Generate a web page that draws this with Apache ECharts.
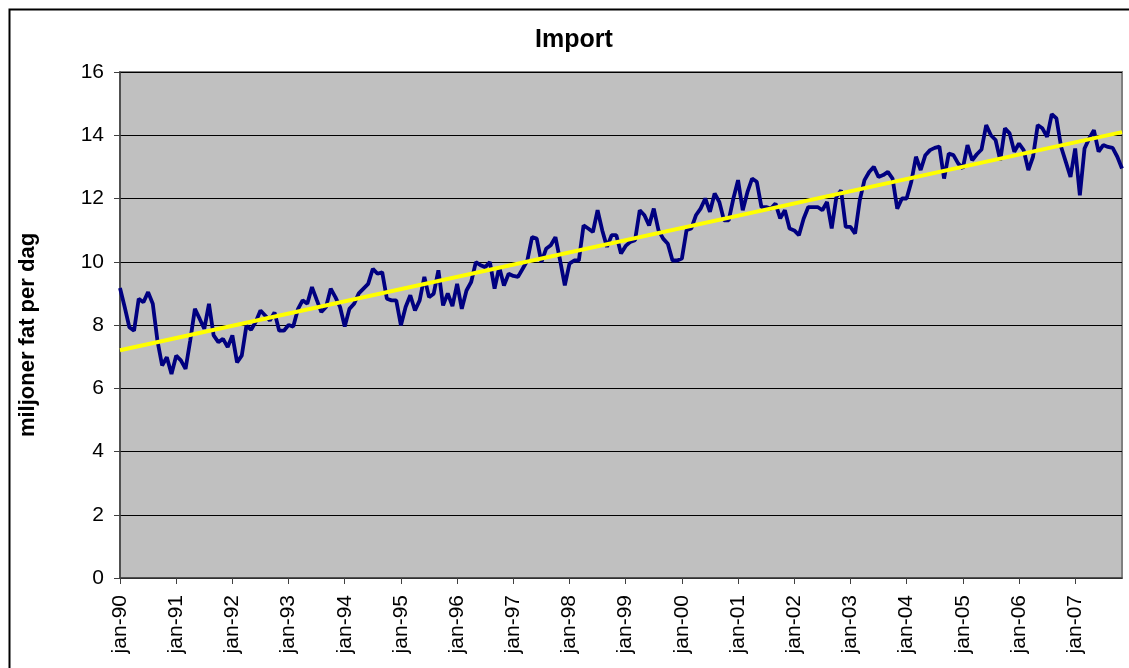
<!DOCTYPE html>
<html>
<head>
<meta charset="utf-8">
<title>Import</title>
<script src="https://cdn.jsdelivr.net/npm/echarts@6/dist/echarts.min.js"></script>
<style>
  html, body { margin: 0; padding: 0; background: #fff; }
  #chart { width: 1129px; height: 668px; }
</style>
</head>
<body>
<div id="chart"></div>
<script>
// månedsnavn og år for kategoriaksen (jan-90 .. nov-07)
const monthNames = ['jan', 'feb', 'mar', 'apr', 'mai', 'jun', 'jul', 'aug', 'sep', 'okt', 'nov', 'des']
const yearLabels = ['90', '91', '92', '93', '94', '95', '96', '97', '98', '99', '00', '01', '02', '03', '04', '05', '06', '07']

// import, millioner fat per dag, én verdi per måned
const importValues = [
  9.17, 8.57, 7.93, 7.82, 8.83, 8.72, 9.04, 8.67, 7.5, 6.72, 6.98, 6.45,
  7.03, 6.88, 6.61, 7.51, 8.51, 8.2, 7.88, 8.67, 7.67, 7.46, 7.56, 7.3,
  7.67, 6.82, 7.03, 7.98, 7.85, 8.1, 8.46, 8.3, 8.14, 8.4, 7.82, 7.82,
  8.0, 7.95, 8.5, 8.78, 8.67, 9.2, 8.8, 8.41, 8.57, 9.15, 8.88, 8.57,
  7.95, 8.51, 8.67, 9.0, 9.15, 9.3, 9.78, 9.62, 9.67, 8.83, 8.78, 8.78,
  7.99, 8.57, 8.94, 8.46, 8.78, 9.52, 8.88, 8.99, 9.73, 8.62, 9.0, 8.6,
  9.3, 8.51, 9.09, 9.36, 9.99, 9.89, 9.83, 9.99, 9.15, 9.83, 9.25, 9.62,
  9.55, 9.52, 9.78, 10.04, 10.78, 10.73, 9.99, 10.41, 10.52, 10.78, 10.04, 9.25,
  9.94, 10.04, 10.04, 11.15, 11.05, 10.94, 11.63, 10.99, 10.47, 10.84, 10.84, 10.26,
  10.5, 10.63, 10.68, 11.63, 11.47, 11.15, 11.68, 11.0, 10.73, 10.57, 10.04, 10.04,
  10.1, 11.0, 11.05, 11.47, 11.68, 12.0, 11.58, 12.16, 11.89, 11.31, 11.31, 12.0,
  12.58, 11.63, 12.2, 12.63, 12.53, 11.73, 11.73, 11.68, 11.84, 11.37, 11.63, 11.05,
  10.99, 10.84, 11.36, 11.73, 11.73, 11.73, 11.63, 11.89, 11.05, 12.05, 12.26, 11.1,
  11.1, 10.89, 11.95, 12.58, 12.84, 13.0, 12.68, 12.74, 12.84, 12.63, 11.68, 12.0,
  12.0, 12.53, 13.32, 12.9, 13.37, 13.53, 13.6, 13.64, 12.63, 13.42, 13.37, 13.11,
  12.95, 13.69, 13.21, 13.4, 13.55, 14.32, 14.0, 13.85, 13.21, 14.22, 14.06, 13.48,
  13.74, 13.53, 12.9, 13.32, 14.32, 14.22, 13.95, 14.67, 14.53, 13.63, 13.16, 12.68,
  13.58, 12.1, 13.58, 13.9, 14.16, 13.48, 13.69, 13.63, 13.6, 13.32, 12.95
]

// lineær trendlinje: start- og sluttverdi lest av bildet
const trendStart = 7.2
const trendEnd = 14.1

const yTicks = { min: 0, max: 16, step: 2 }

const categories = []
yearLabels.forEach(yy => {
  monthNames.forEach(m => {
    if (categories.length < importValues.length) categories.push(m + '-' + yy)
  })
})

const font = "'Liberation Sans', Arial, sans-serif"
const chart = echarts.init(document.getElementById('chart'))

chart.setOption({
  animation: false,
  backgroundColor: '#fff',
  textStyle: { fontFamily: font },
  title: {
    text: 'Import',
    left: 530,
    top: 23,
    textStyle: { fontSize: 25, fontWeight: 'bold', color: '#000', fontFamily: font }
  },
  graphic: [
    {
      type: 'rect',
      left: 7,
      top: 7,
      shape: { width: 1170, height: 720 },
      style: { fill: 'none', stroke: '#000', lineWidth: 2 },
      silent: true
    }
  ],
  grid: {
    left: 120,
    top: 72,
    right: 7,
    bottom: 90,
    show: true,
    backgroundColor: '#C0C0C0',
    borderColor: '#808080',
    borderWidth: 2
  },
  xAxis: {
    type: 'category',
    data: categories,
    boundaryGap: false,
    axisLine: { lineStyle: { color: '#404040', width: 1.5 } },
    axisTick: { interval: 11, length: 6, lineStyle: { color: '#404040' } },
    axisLabel: {
      interval: 11,
      rotate: 90,
      margin: 17,
      color: '#000',
      fontSize: 21,
      fontFamily: font
    },
    splitLine: { show: false }
  },
  yAxis: {
    type: 'value',
    min: yTicks.min,
    max: yTicks.max,
    interval: yTicks.step,
    name: 'miljoner fat per dag',
    nameLocation: 'middle',
    nameGap: 81,
    nameTextStyle: {
      fontSize: 22,
      fontWeight: 'bold',
      color: '#000',
      fontFamily: font,
      padding: [0, 20, 0, 0]
    },
    axisLine: { show: true, lineStyle: { color: '#404040', width: 1.5 } },
    axisTick: { show: true, length: 6, lineStyle: { color: '#404040' } },
    axisLabel: { margin: 16, color: '#000', fontSize: 21, fontFamily: font },
    splitLine: { lineStyle: { color: '#000', width: 1 } }
  },
  series: [
    {
      name: 'Import',
      type: 'line',
      data: importValues,
      symbol: 'none',
      lineStyle: { color: '#000080', width: 3.8 },
      itemStyle: { color: '#000080' }
    },
    {
      name: 'Trend',
      type: 'line',
      data: [[categories[0], trendStart], [categories[categories.length - 1], trendEnd]],
      symbol: 'none',
      lineStyle: { color: '#FFFF00', width: 4 },
      itemStyle: { color: '#FFFF00' }
    }
  ]
})
</script>
</body>
</html>
